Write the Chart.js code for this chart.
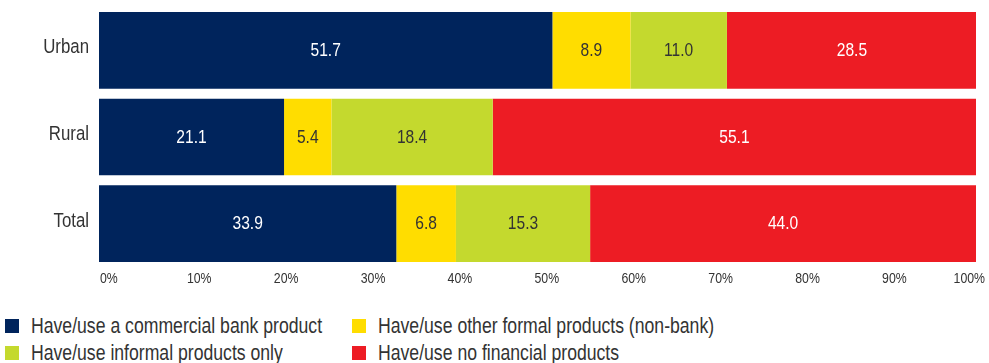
<!DOCTYPE html>
<html>
<head>
<meta charset="utf-8">
<script src="https://cdn.jsdelivr.net/npm/chart.js@4/dist/chart.umd.min.js"></script>
<style>
  body { margin: 0; background: #fff; font-family: "Liberation Sans", Arial, sans-serif; }
  #wrap { position: absolute; left: 0; top: 0; width: 989px; height: 290px; }
  #legend { position: absolute; left: 5px; top: 318px; display: grid; grid-template-columns: 347px 400px; row-gap: 11px; }
  .item { display: flex; align-items: center; height: 16px; font-size: 21.5px; color: #333; white-space: nowrap; }
  .box { width: 14px; height: 14px; margin-right: 12px; flex: none; }
  .txt { display: inline-block; transform: scaleX(0.82); transform-origin: 0 50%; }
</style>
</head>
<body>
<div id="wrap"><canvas id="chart" width="989" height="290"></canvas></div>
<div id="legend"></div>
<script>
const categories = ['Urban', 'Rural', 'Total'];
const seriesNames = [
  'Have/use a commercial bank product',
  'Have/use other formal products (non-bank)',
  'Have/use informal products only',
  'Have/use no financial products'
];
const bankProduct = [51.7, 21.1, 33.9];
const otherFormal = [8.9, 5.4, 6.8];
const informalOnly = [11.0, 18.4, 15.3];
const noProducts = [28.5, 55.1, 44.0];
const xTicks = [0, 10, 20, 30, 40, 50, 60, 70, 80, 90, 100];

const colors = ['#00245c', '#ffdd00', '#c4d92e', '#ed1c24'];
const labelColors = ['#ffffff', '#333333', '#333333', '#ffffff'];
const FONT = '"Liberation Sans", Arial, sans-serif';
const SQUEEZE = 0.82; // condensed look

const values = [bankProduct, otherFormal, informalOnly, noProducts];

function narrowText(ctx, text, x, y, align) {
  ctx.save();
  ctx.translate(x, y);
  ctx.scale(SQUEEZE, 1);
  ctx.textAlign = align;
  ctx.textBaseline = 'middle';
  ctx.fillText(text, 0, 0);
  ctx.restore();
}

// value labels centred inside each segment
const segmentLabels = {
  id: 'segmentLabels',
  afterDatasetsDraw(chart) {
    const ctx = chart.ctx;
    ctx.save();
    ctx.font = '19px ' + FONT;
    chart.data.datasets.forEach((ds, i) => {
      chart.getDatasetMeta(i).data.forEach((bar, j) => {
        const p = bar.getProps(['x', 'y', 'base'], true);
        ctx.fillStyle = labelColors[i];
        narrowText(ctx, ds.data[j].toFixed(1), (p.x + p.base) / 2, p.y + 0.5, 'center');
      });
    });
    ctx.restore();
  }
};

// category names and percentage ticks
const axisText = {
  id: 'axisText',
  afterDraw(chart) {
    const ctx = chart.ctx;
    const x = chart.scales.x;
    const y = chart.scales.y;
    ctx.save();
    ctx.fillStyle = '#333';
    ctx.font = '20.5px ' + FONT;
    categories.forEach((c, i) => {
      narrowText(ctx, c, y.right - 10, y.getPixelForValue(i) - 2.5, 'right');
    });
    ctx.font = '15px ' + FONT;
    xTicks.forEach((v, i) => {
      const px = x.getPixelForValue(v);
      const last = i === xTicks.length - 1;
      narrowText(ctx, v + '%', last ? px + 9 : px + 1 - v * 0.08, x.top + 11.5, last ? 'right' : 'left');
    });
    ctx.restore();
  }
};

new Chart(document.getElementById('chart'), {
  type: 'bar',
  data: {
    labels: categories,
    datasets: seriesNames.map((name, i) => ({
      label: name,
      data: values[i],
      backgroundColor: colors[i],
      borderWidth: 0,
      categoryPercentage: 1,
      barPercentage: 0.885
    }))
  },
  options: {
    indexAxis: 'y',
    responsive: false,
    animation: false,
    layout: { padding: { top: 7, right: 13, left: 0, bottom: 0 } },
    plugins: { legend: { display: false }, tooltip: { enabled: false } },
    scales: {
      x: {
        stacked: true,
        min: 0,
        max: 100,
        grid: { display: false, drawTicks: false },
        border: { display: false },
        ticks: { display: false },
        afterFit: s => { s.height = 23; s.paddingLeft = 0; s.paddingRight = 0; }
      },
      y: {
        stacked: true,
        grid: { display: false, drawTicks: false },
        border: { display: false },
        ticks: { display: false },
        afterFit: s => { s.width = 99; s.paddingTop = 0; s.paddingBottom = 0; }
      }
    }
  },
  plugins: [segmentLabels, axisText]
});

// legend in two columns below the chart
const legend = document.getElementById('legend');
[0, 1, 2, 3].forEach(i => {
  const item = document.createElement('div');
  item.className = 'item';
  item.innerHTML = '<span class="box" style="background:' + colors[i] + '"></span><span class="txt">' + seriesNames[i] + '</span>';
  legend.appendChild(item);
});
</script>
</body>
</html>
